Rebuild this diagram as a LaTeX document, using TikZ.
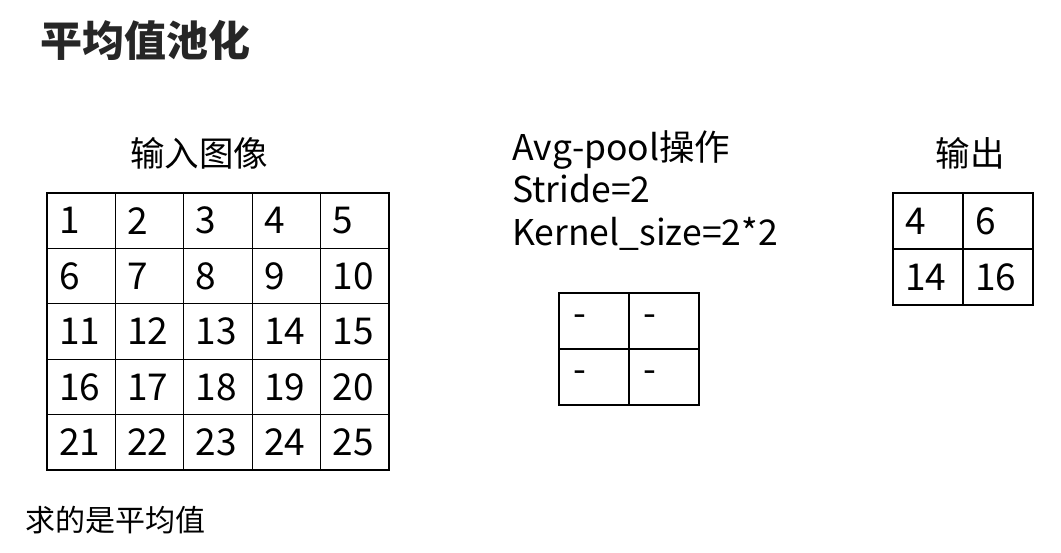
\documentclass[tikz,border=0pt]{standalone}
\usepackage{fontspec}
\setmainfont{Noto Sans CJK SC}
\usetikzlibrary{positioning}

\tikzset{
  cell/.style={draw, line width=1.3pt, minimum width=68.4pt, minimum height=55.4pt,
    inner xsep=12pt, inner ysep=0pt, text width=44.4pt, align=left,
    font=\fontsize{37}{37}\selectfont},
  smallcell/.style={cell, minimum width=70pt, minimum height=56pt, text width=46pt},
  heading/.style={font=\fontsize{34.5}{34.5}\selectfont},
}

\begin{document}
\begin{tikzpicture}[x=1pt,y=-1pt]
  \useasboundingbox (0,0) rectangle (1061,553);

  % title
  \node[anchor=west, inner sep=0pt, text=black!85, font=\fontsize{42}{42}\selectfont\bfseries] (title) at (40,40) {平均值池化};

  % input image 5x5
  \node[heading] (inlabel) at (199,153) {输入图像};
  \foreach \r in {0,...,4}
    \foreach \c in {0,...,4} {
      \pgfmathtruncatemacro\v{\r*5+\c+1}
      \node[cell] (in-\r-\c) at ({81.2+68.4*\c},{220.7+55.4*\r}) {\v};
    }

  % avg-pool operation
  \node[heading, anchor=north west, align=left, inner sep=0pt, font=\fontsize{35.5}{42.5}\selectfont] (oplabel) at (512,130)
    {Avg-pool操作\\Stride=2\\Kernel\_size=2*2};
  \foreach \r in {0,1}
    \foreach \c in {0,1}
      \node[smallcell, inner xsep=14pt, text width=42pt] (k-\r-\c) at ({594+70*\c},{321+56*\r}) {\raisebox{-5pt}{-}};

  % output 2x2
  \node[heading] (outlabel) at (970,153) {输出};
  \node[smallcell] (out-0-0) at (928,221) {4};
  \node[smallcell] (out-0-1) at (998,221) {6};
  \node[smallcell] (out-1-0) at (928,277) {14};
  \node[smallcell] (out-1-1) at (998,277) {16};

  % note
  \node[anchor=west, inner sep=0pt, font=\fontsize{30}{30}\selectfont] (note) at (25,520) {求的是平均值};
\end{tikzpicture}
\end{document}
